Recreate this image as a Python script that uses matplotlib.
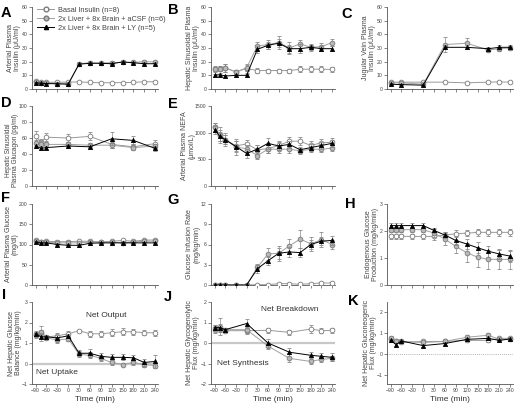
import matplotlib
matplotlib.use('Agg')
import matplotlib.pyplot as plt
from matplotlib.lines import Line2D

plt.rcParams['font.family'] = ['Liberation Sans', 'DejaVu Sans']

# ---------------- data ----------------
T13 = [-90, -75, -60, -30, 0, 30, 60, 90, 120, 150, 180, 210, 240]
T_C = [-90, -60, 0, 60, 120, 180, 210, 240]
T_D = [-90, -75, -60, 0, 60, 120, 180, 240]
T_J = [-90, -75, -60, 0, 60, 120, 180, 210, 240]
xticks = [-90, -60, -30, 0, 30, 60, 90, 120, 150, 180, 210, 240]

series_labels = ["Basal Insulin (n=8)",
                 "2x Liver + 8x Brain + aCSF (n=6)",
                 "2x Liver + 8x Brain + LY (n=5)"]

# A: arterial plasma insulin
A_basal = [5.5, 5.0, 4.8, 5.0, 5.0, 5.2, 4.8, 4.6, 4.6, 4.7, 4.8, 5.3, 5.3]
A_acsf = [5.0, 4.5, 4.5, 4.0, 3.8, 18.5, 19.2, 19.0, 19.2, 19.5, 19.5, 20.0, 19.8]
A_ly = [4.5, 4.2, 4.0, 3.8, 3.5, 18.2, 18.8, 18.8, 18.5, 19.8, 19.2, 18.5, 18.5]
A_basal_err = [0.5, 0.4, 0.4, 0.4, 0.4, 0.4, 0.4, 0.4, 0.4, 0.4, 0.4, 0.5, 0.5]
A_acsf_err = [0.6, 0.5, 0.5, 0.5, 0.5, 1.0, 1.0, 1.0, 1.0, 1.2, 1.0, 1.0, 1.0]
A_ly_err = [0.5, 0.5, 0.5, 0.5, 0.5, 1.0, 1.0, 1.2, 1.0, 1.5, 1.0, 1.0, 1.0]

# B: hepatic sinusoidal plasma insulin
B_basal = [14.5, 15.0, 15.5, 12.5, 15.0, 13.5, 13.5, 13.5, 13.5, 14.5, 14.5, 14.5, 14.3]
B_acsf = [14.5, 15.0, 15.5, 12.5, 15.5, 31.5, 32.5, 34.0, 30.0, 33.0, 30.5, 31.0, 34.0]
B_ly = [10.0, 10.5, 9.5, 10.0, 10.0, 29.0, 32.0, 33.5, 29.5, 29.5, 30.5, 29.5, 29.5]
B_basal_err = [1.5, 1.5, 3.0, 1.5, 3.0, 2.0, 1.5, 1.5, 1.5, 2.0, 2.0, 2.0, 1.5]
B_acsf_err = [2.0, 2.0, 3.0, 1.5, 2.0, 3.0, 3.0, 4.5, 4.5, 3.0, 2.5, 3.0, 2.5]
B_ly_err = [1.0, 1.0, 1.0, 1.0, 1.0, 2.5, 2.5, 3.0, 3.0, 3.5, 2.0, 2.0, 2.0]

# C: jugular vein plasma insulin
C_basal = [5.0, 5.0, 5.0, 5.0, 4.5, 5.0, 5.2, 5.0]
C_acsf = [4.5, 4.5, 3.5, 32.5, 33.5, 28.5, 29.5, 30.0]
C_ly = [3.5, 3.2, 2.8, 30.5, 30.5, 29.5, 30.5, 30.5]
C_basal_err = [0.5, 0.5, 0.5, 0.5, 0.5, 0.5, 0.5, 0.5]
C_acsf_err = [0.8, 0.8, 0.8, 5.5, 4.0, 1.5, 1.5, 1.5]
C_ly_err = [0.6, 0.6, 0.6, 1.5, 1.5, 1.5, 2.0, 2.0]

# D: hepatic sinusoidal plasma glucagon
D_basal = [62, 55, 61, 60, 62, 52, 49, 53]
D_acsf = [54, 53, 52, 52, 51, 51, 48, 50]
D_ly = [50, 47, 48, 50, 49, 59, 57, 47]
D_basal_err = [7, 4, 5, 5, 5, 4, 3, 4]
D_acsf_err = [4, 3, 3, 3, 3, 3, 3, 3]
D_ly_err = [3, 2, 2, 2, 3, 8, 5, 3]

# E: arterial plasma NEFA
E_basal = [1100, 950, 870, 750, 790, 680, 700, 760, 840, 840, 760, 810, 820]
E_acsf = [1100, 960, 870, 730, 700, 570, 690, 690, 690, 660, 690, 690, 710]
E_ly = [1050, 930, 870, 740, 610, 690, 800, 750, 780, 680, 720, 760, 800]
E_basal_err = [80, 100, 90, 90, 80, 90, 80, 80, 80, 80, 80, 80, 80]
E_acsf_err = [80, 150, 120, 150, 70, 70, 80, 70, 80, 60, 60, 60, 60]
E_ly_err = [80, 90, 90, 100, 80, 80, 100, 70, 70, 60, 70, 70, 70]

# F: arterial plasma glucose
F_basal = [110, 107, 108, 107, 107, 108, 108, 106, 108, 110, 108, 111, 111]
F_acsf = [108, 107, 106, 104, 104, 104, 106, 106, 106, 104, 106, 108, 108]
F_ly = [106, 104, 104, 100, 98, 98, 103, 104, 104, 104, 104, 104, 104]
F_basal_err = [3, 3, 3, 3, 3, 3, 3, 3, 3, 3, 3, 3, 3]
F_acsf_err = [3, 3, 3, 3, 3, 3, 3, 3, 3, 3, 3, 3, 3]
F_ly_err = [3, 3, 3, 3, 3, 3, 3, 3, 3, 3, 3, 3, 3]

# G: glucose infusion rate
G_basal = [0, 0, 0, 0, 0, 0.05, 0.05, 0.2, 0.2, 0.1, 0.2, 0.3, 0.3]
G_acsf = [0, 0, 0, 0, 0, 2.6, 4.6, 4.7, 5.8, 6.8, 6.1, 6.7, 6.0]
G_ly = [0, 0, 0, 0, 0, 2.4, 3.6, 4.7, 4.9, 4.8, 6.0, 6.5, 6.6]
G_basal_err = [0, 0, 0, 0, 0, 0.05, 0.05, 0.1, 0.1, 0.1, 0.1, 0.1, 0.1]
G_acsf_err = [0, 0, 0, 0, 0, 0.5, 0.9, 1.1, 1.0, 1.3, 1.0, 1.1, 0.7]
G_ly_err = [0, 0, 0, 0, 0, 0.6, 0.6, 0.8, 0.8, 0.7, 0.7, 0.6, 0.6]

# H: endogenous glucose production
H_basal = [1.8, 1.8, 1.8, 1.8, 1.8, 1.8, 1.85, 1.9, 1.92, 1.95, 1.95, 1.95, 1.95]
H_acsf = [2.05, 2.05, 2.05, 2.05, 2.05, 1.92, 1.7, 1.43, 1.2, 1.03, 0.95, 0.95, 0.95]
H_ly = [2.2, 2.2, 2.2, 2.2, 2.2, 2.02, 1.85, 1.65, 1.52, 1.38, 1.25, 1.15, 1.07]
H_basal_err = [0.1, 0.1, 0.1, 0.1, 0.1, 0.12, 0.12, 0.12, 0.12, 0.12, 0.12, 0.12, 0.12]
H_acsf_err = [0.1, 0.1, 0.1, 0.1, 0.1, 0.15, 0.2, 0.25, 0.35, 0.35, 0.35, 0.35, 0.35]
H_ly_err = [0.08, 0.08, 0.08, 0.08, 0.08, 0.1, 0.12, 0.15, 0.2, 0.2, 0.2, 0.2, 0.2]

# I: net hepatic glucose balance
I_basal = [1.45, 1.5, 1.3, 1.35, 1.45, 1.6, 1.45, 1.45, 1.5, 1.55, 1.55, 1.5, 1.5]
I_acsf = [1.4, 1.55, 1.25, 1.15, 1.2, 0.45, 0.4, 0.25, 0.05, -0.05, 0.05, -0.05, -0.1]
I_ly = [1.45, 1.3, 1.3, 1.25, 1.35, 0.5, 0.5, 0.35, 0.3, 0.3, 0.28, 0.05, 0.1]
I_basal_err = [0.15, 0.15, 0.1, 0.12, 0.12, 0.05, 0.15, 0.15, 0.18, 0.18, 0.15, 0.12, 0.15]
I_acsf_err = [0.15, 0.3, 0.1, 0.15, 0.1, 0.15, 0.15, 0.12, 0.1, 0.08, 0.1, 0.1, 0.1]
I_ly_err = [0.1, 0.2, 0.1, 0.15, 0.1, 0.15, 0.2, 0.15, 0.15, 0.15, 0.15, 0.15, 0.3]

# J: net hepatic glycogenolytic flux
J_basal = [0.65, 0.7, 0.6, 0.6, 0.62, 0.52, 0.68, 0.6, 0.62]
J_acsf = [0.75, 0.8, 0.65, 0.65, -0.15, -0.75, -0.9, -0.8, -0.75]
J_ly = [0.75, 0.75, 0.65, 0.95, 0.0, -0.45, -0.6, -0.65, -0.7]
J_basal_err = [0.15, 0.15, 0.1, 0.15, 0.12, 0.12, 0.18, 0.12, 0.12]
J_acsf_err = [0.15, 0.4, 0.1, 0.15, 0.15, 0.2, 0.12, 0.12, 0.12]
J_ly_err = [0.12, 0.2, 0.1, 0.2, 0.2, 0.2, 0.15, 0.15, 0.2]

# K: net hepatic gluconeogenic flux
K_basal = [0.7, 0.6, 0.55, 0.6, 0.6, 0.65, 0.65, 0.75, 0.75]
K_acsf = [0.75, 0.6, 0.6, 0.55, 0.6, 0.8, 0.9, 0.7, 0.7]
K_ly = [0.65, 0.45, 0.62, 0.4, 0.5, 0.7, 0.75, 0.65, 0.72]
K_basal_err = [0.08, 0.08, 0.08, 0.08, 0.08, 0.08, 0.1, 0.08, 0.08]
K_acsf_err = [0.1, 0.08, 0.08, 0.08, 0.08, 0.1, 0.12, 0.08, 0.08]
K_ly_err = [0.08, 0.08, 0.08, 0.08, 0.08, 0.08, 0.1, 0.08, 0.08]

# ---------------- figure ----------------
W, H = 515, 404
fig = plt.figure(figsize=(W / 100, H / 100), dpi=100)


def make_ax(l, t, r, b):
    return fig.add_axes([l / W, (H - b) / H, (r - l) / W, (b - t) / H])


STY = [
    dict(marker='o', mfc='white', mec='#7a7a7a', color='#9a9a9a', ms=3.4, zorder=3),
    dict(marker='o', mfc='#b8b8b8', mec='#7a7a7a', color='#a0a0a0', ms=3.4, zorder=4),
    dict(marker='^', mfc='black', mec='black', color='black', ms=3.0, zorder=5),
]


def panel(box, t, ys, errs, ylim, yticks, ylabel, labx, bottom=False,
          labsize=5, laby=0.5):
    ax = make_ax(*box)
    for y, e, st in zip(ys, errs, STY):
        ax.errorbar(t, y, yerr=e, lw=0.7, mew=0.6, ecolor='#8a8a8a',
                    elinewidth=0.5, capsize=1.3, capthick=0.5, **st)
    ax.set_xlim(-100, 248)
    ax.set_ylim(*ylim)
    ax.set_yticks(yticks)
    ax.set_xticks(xticks)
    for s in ('top', 'right'):
        ax.spines[s].set_visible(False)
    for s in ('left', 'bottom'):
        ax.spines[s].set_linewidth(0.6)
        ax.spines[s].set_color('#555555')
    ax.tick_params(length=2, width=0.5, color='#555555', labelsize=3.7,
                   labelcolor='#444444', pad=1.2)
    if bottom:
        ax.set_xlabel('Time (min)', fontsize=6, color='#333333', labelpad=2)
    else:
        ax.set_xticklabels([])
    ax.set_ylabel(ylabel, fontsize=labsize, color='#444444', linespacing=1.05)
    ax.yaxis.set_label_coords(labx, laby)
    return ax


c1, c2, c3 = (32, 158), (211, 335), (387, 513)
r1, r2, r3, r4 = (7, 89), (106, 186), (204, 285), (302, 384)

axA = panel((c1[0], r1[0], c1[1], r1[1]), T13, [A_basal, A_acsf, A_ly],
            [A_basal_err, A_acsf_err, A_ly_err], (0, 60), range(0, 61, 10),
            'Arterial Plasma\nInsulin (\u03bcU/ml)', -0.085)
axB = panel((c2[0], r1[0], c2[1], r1[1]), T13, [B_basal, B_acsf, B_ly],
            [B_basal_err, B_acsf_err, B_ly_err], (0, 60), range(0, 61, 10),
            'Hepatic Sinusoidal Plasma\nInsulin (\u03bcU/ml)', -0.088)
axC = panel((c3[0], r1[0], c3[1], r1[1]), T_C, [C_basal, C_acsf, C_ly],
            [C_basal_err, C_acsf_err, C_ly_err], (0, 60), range(0, 61, 10),
            'Jugular Vein Plasma\nInsulin (\u03bcU/ml)', -0.085)
axD = panel((c1[0], r2[0], c1[1], r2[1]), T_D, [D_basal, D_acsf, D_ly],
            [D_basal_err, D_acsf_err, D_ly_err], (0, 100), range(0, 101, 20),
            'Hepatic Sinusoidal\nPlasma Glucagon (pg/ml)', -0.105,
            labsize=4.7, laby=0.45)
axE = panel((c2[0], r2[0], c2[1], r2[1]), T13, [E_basal, E_acsf, E_ly],
            [E_basal_err, E_acsf_err, E_ly_err], (0, 1500), range(0, 1501, 500),
            'Arterial Plasma NEFA\n(\u03bcmol/L)', -0.125)
axF = panel((c1[0], r3[0], c1[1], r3[1]), T13, [F_basal, F_acsf, F_ly],
            [F_basal_err, F_acsf_err, F_ly_err], (0, 200), range(0, 201, 50),
            'Arterial Plasma Glucose\n(mg/dl)', -0.105)
axG = panel((c2[0], r3[0], c2[1], r3[1]), T13, [G_basal, G_acsf, G_ly],
            [G_basal_err, G_acsf_err, G_ly_err], (0, 12), range(0, 13, 3),
            'Glucose Infusion Rate\n(mg/kg/min)', -0.085)
axH = panel((c3[0], r3[0], c3[1], r3[1]), T13, [H_basal, H_acsf, H_ly],
            [H_basal_err, H_acsf_err, H_ly_err], (0, 3), range(0, 4, 1),
            'Endogenous Glucose\nProduction (mg/kg/min)', -0.065)
axI = panel((c1[0], r4[0], c1[1], r4[1]), T13, [I_basal, I_acsf, I_ly],
            [I_basal_err, I_acsf_err, I_ly_err], (-1, 3), range(-1, 4, 1),
            'Net Hepatic Glucose\nBalance (mg/kg/min)', -0.08, bottom=True)
axJ = panel((c2[0], r4[0], c2[1], r4[1]), T_J, [J_basal, J_acsf, J_ly],
            [J_basal_err, J_acsf_err, J_ly_err], (-2, 2), range(-2, 3, 1),
            'Net Hepatic Glycogenolytic\nFlux (mg/kg/min)', -0.085, bottom=True)
axK = panel((c3[0], r4[0], c3[1], r4[1]), T_J, [K_basal, K_acsf, K_ly],
            [K_basal_err, K_acsf_err, K_ly_err], (-1.45, 2.5), range(-1, 3, 1),
            'Net Hepatic Gluconeogenic\nFlux (mg/kg/min)', -0.08, bottom=True)

for ax in (axI, axJ):
    ax.axhline(0, color='#c8c8c8', lw=1.6, zorder=1)
axK.axhline(0, color='#999999', lw=0.6, ls=(0, (1, 1.5)), zorder=1)

axI.text(105, 2.35, 'Net Output', fontsize=6, color='#333333', ha='center', va='center')
axI.text(-30, -0.42, 'Net Uptake', fontsize=6, color='#333333', ha='center', va='center')
axJ.text(120, 1.65, 'Net Breakdown', fontsize=6, color='#333333', ha='center', va='center')
axJ.text(-10, -1.0, 'Net Synthesis', fontsize=6, color='#333333', ha='center', va='center')

handles = [Line2D([], [], lw=0.7, **st) for st in STY]
axA.legend(handles, series_labels, loc='upper left', bbox_to_anchor=(0.02, 1.04),
           frameon=False, fontsize=5.3, handlelength=2.2, handletextpad=0.6,
           labelspacing=0.25, borderaxespad=0, labelcolor='#444444')

letters = [('A', 1, 6), ('B', 168, 3), ('C', 341, 7), ('D', 1, 96), ('E', 168, 97),
           ('F', 1, 191), ('G', 167, 193), ('H', 345, 197), ('I', 2, 288),
           ('J', 164, 290), ('K', 348, 294)]
for s, x, y in letters:
    fig.text(x / W, 1 - y / H, s, fontsize=10.5, fontweight='bold', va='top', ha='left')

fig.savefig('out.png', dpi=100)
